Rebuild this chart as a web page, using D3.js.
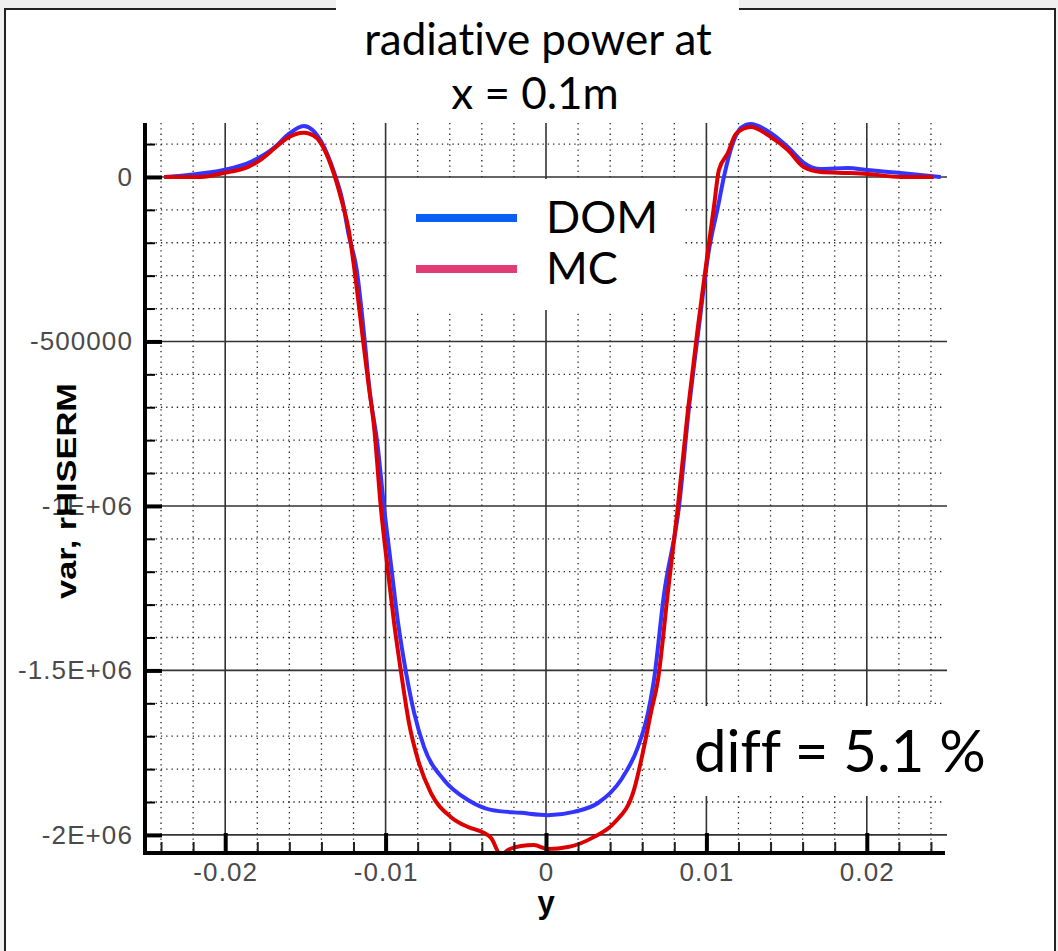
<!DOCTYPE html>
<html>
<head>
<meta charset="utf-8">
<script src="https://d3js.org/d3.v7.min.js"></script>
<style>
  html, body { margin: 0; padding: 0; background: #f0f0f0; }
  svg { display: block; }
  text { font-variant-ligatures: none; }
</style>
</head>
<body>
<svg id="chart" width="1058" height="951"></svg>
<script>
// ---- data ----
const titleLines = ["radiative power at", "x = 0.1m"];
const seriesNames = ["DOM", "MC"];
const xTickValues = [-0.02, -0.01, 0, 0.01, 0.02];
const xTickLabels = ["-0.02", "-0.01", "0", "0.01", "0.02"];
const yTickValues = [0, -500000, -1000000, -1500000, -2000000];
const yTickLabels = ["0", "-500000", "-1E+06", "-1.5E+06", "-2E+06"];
const xLabel = "y";
const yLabel = "var, rHISERM";
const diffText = "diff = 5.1 %";

const domX = [-0.0238, -0.0223, -0.0201, -0.0184, -0.0169, -0.0161, -0.0151, -0.0140, -0.0132, -0.0127, -0.0123, -0.0118, -0.0113, -0.0110, -0.0105, -0.0101, -0.00966, -0.00922, -0.00872, -0.00822, -0.0076, -0.00636, -0.00486, -0.00343, -0.00156, 0.00012, 0.00174, 0.00324, 0.00467, 0.00573, 0.00636, 0.00673, 0.00735, 0.00829, 0.0089, 0.00953, 0.01016, 0.01072, 0.01109, 0.01165, 0.01215, 0.01277, 0.0140, 0.01508, 0.01607, 0.01713, 0.01882, 0.02006, 0.02212, 0.02461];
const domY = [0, 6000, 21000, 46000, 91000, 128000, 155000, 106000, 12000, -70000, -176000, -283000, -499000, -648000, -815000, -1003000, -1180000, -1356000, -1508000, -1629000, -1733000, -1833000, -1894000, -1924000, -1933000, -1940000, -1930000, -1903000, -1833000, -1733000, -1629000, -1529000, -1271000, -1003000, -708000, -456000, -222000, -91000, 0, 103000, 149000, 161000, 134000, 91000, 43000, 24000, 27000, 21000, 12000, 0];

const mcX = [-0.0238, -0.0215, -0.0201, -0.0186, -0.0178, -0.0169, -0.0161, -0.0151, -0.0143, -0.0139, -0.0132, -0.0128, -0.0123, -0.0120, -0.0114, -0.0111, -0.0107, -0.0103, -0.00984, -0.00947, -0.00903, -0.00854, -0.00798, -0.00717, -0.00592, -0.00486, -0.00386, -0.00343, -0.0028, -0.00237, -0.00156, -0.00075, 0.00012, 0.00137, 0.003, 0.00424, 0.00548, 0.00611, 0.00654, 0.00698, 0.0076, 0.00822, 0.00885, 0.00947, 0.0101, 0.01047, 0.01078, 0.01134, 0.01184, 0.01277, 0.0140, 0.01508, 0.01607, 0.01713, 0.01882, 0.02006, 0.02212, 0.02417];
const mcY = [0, 0, 12000, 30000, 52000, 88000, 119000, 134000, 119000, 91000, 6000, -61000, -161000, -261000, -499000, -617000, -769000, -1003000, -1204000, -1356000, -1508000, -1660000, -1772000, -1873000, -1946000, -1976000, -1994000, -2009000, -2061000, -2046000, -2034000, -2031000, -2043000, -2037000, -2006000, -1964000, -1864000, -1733000, -1629000, -1529000, -1262000, -1003000, -708000, -456000, -222000, -91000, 21000, 73000, 131000, 152000, 122000, 82000, 30000, 15000, 12000, 9000, 0, 0];

const curveColors = ["#3434ff", "#dd0000"];
const legendColors = ["#0a5ff5", "#e23c75"];

// ---- drawing ----
const svg = d3.select("#chart");
const W = 1058, H = 951;

// page frame
svg.append("rect").attr("x", 0).attr("y", 0).attr("width", W).attr("height", H).attr("fill", "#f0f0f0");
svg.append("rect").attr("x", 5).attr("y", 9).attr("width", 1050).attr("height", 960)
  .attr("fill", "#ffffff").attr("stroke", "#222").attr("stroke-width", 2);

const x = d3.scaleLinear().domain([-0.025, 0.025]).range([145, 947]);
const y = d3.scaleLinear().domain([-2055000, 164000]).range([853, 123]);

const minorX = d3.range(-24, 25, 2).map(d => d / 1000);
const minorY = d3.range(-20, 2, 1).map(d => d * 100000);
const isMajorX = v => xTickValues.some(t => Math.abs(t - v) < 1e-9);
const isMajorY = v => yTickValues.some(t => Math.abs(t - v) < 1e-3);

const grid = svg.append("g");
// dotted minor grid
grid.selectAll("line.vmin").data(minorX.filter(v => !isMajorX(v))).join("line")
  .attr("x1", d => x(d)).attr("x2", d => x(d)).attr("y1", y.range()[1]).attr("y2", y.range()[0])
  .attr("stroke", "#222").attr("stroke-width", 1.3).attr("stroke-dasharray", "1.3,4");
grid.selectAll("line.hmin").data(minorY.filter(v => !isMajorY(v))).join("line")
  .attr("x1", x.range()[0]).attr("x2", x.range()[1] - 4).attr("y1", d => y(d)).attr("y2", d => y(d))
  .attr("stroke", "#222").attr("stroke-width", 1.3).attr("stroke-dasharray", "1.3,4");
// solid major grid
grid.selectAll("line.vmaj").data(xTickValues).join("line")
  .attr("x1", d => x(d)).attr("x2", d => x(d)).attr("y1", y.range()[1]).attr("y2", y.range()[0])
  .attr("stroke", "#333").attr("stroke-width", 1.6);
grid.selectAll("line.hmaj").data(yTickValues).join("line")
  .attr("x1", x.range()[0]).attr("x2", x.range()[1]).attr("y1", d => y(d)).attr("y2", d => y(d))
  .attr("stroke", "#333").attr("stroke-width", 1.6);

// curves
svg.append("defs").append("clipPath").attr("id", "plotclip")
  .append("rect").attr("x", x.range()[0]).attr("y", 100).attr("width", x.range()[1] - x.range()[0] + 5).attr("height", y.range()[0] - 100);

const line = d3.line().x(d => x(d[0])).y(d => y(d[1])).curve(d3.curveMonotoneX);
const seriesData = [d3.zip(domX, domY), d3.zip(mcX, mcY)];
const curves = svg.append("g").attr("clip-path", "url(#plotclip)");
seriesData.forEach((s, i) => {
  curves.append("path").datum(s).attr("d", line)
    .attr("fill", "none").attr("stroke", curveColors[i]).attr("stroke-width", 4)
    .attr("stroke-linejoin", "round");
});

// axes
const tickFont = "'Liberation Sans', Arial, sans-serif";
const yAxisMajor = d3.axisLeft(y).tickValues(yTickValues)
  .tickFormat((d, i) => yTickLabels[i]).tickSize(-17).tickSizeOuter(0).tickPadding(12);
const gy = svg.append("g").attr("transform", `translate(${x.range()[0]},0)`).call(yAxisMajor);
gy.select(".domain").remove();
gy.selectAll(".tick line").attr("stroke", "#000").attr("stroke-width", 4);
gy.selectAll(".tick text").attr("font-family", tickFont).attr("font-size", 26)
  .attr("letter-spacing", 1.1).attr("fill", "#4a4a4a");
const yAxisMinor = d3.axisLeft(y).tickValues(minorY.filter(v => !isMajorY(v)))
  .tickFormat("").tickSize(-10).tickSizeOuter(0);
const gym = svg.append("g").attr("transform", `translate(${x.range()[0]},0)`).call(yAxisMinor);
gym.select(".domain").remove();
gym.selectAll(".tick line").attr("stroke", "#000").attr("stroke-width", 2);

const xAxisMajor = d3.axisBottom(x).tickValues(xTickValues)
  .tickFormat((d, i) => xTickLabels[i]).tickSize(-20).tickSizeOuter(0).tickPadding(10);
const gx = svg.append("g").attr("transform", `translate(0,${y.range()[0]})`).call(xAxisMajor);
gx.select(".domain").remove();
gx.selectAll(".tick line").attr("stroke", "#000").attr("stroke-width", 4);
gx.selectAll(".tick text").attr("font-family", tickFont).attr("font-size", 26)
  .attr("letter-spacing", 1.1).attr("fill", "#4a4a4a");
const xAxisMinor = d3.axisBottom(x).tickValues(minorX.filter(v => !isMajorX(v)))
  .tickFormat("").tickSize(-11).tickSizeOuter(0);
const gxm = svg.append("g").attr("transform", `translate(0,${y.range()[0]})`).call(xAxisMinor);
gxm.select(".domain").remove();
gxm.selectAll(".tick line").attr("stroke", "#222").attr("stroke-width", 2);

// axis lines
svg.append("line").attr("x1", x.range()[0]).attr("x2", x.range()[0])
  .attr("y1", y.range()[1]).attr("y2", y.range()[0] + 2).attr("stroke", "#000").attr("stroke-width", 4);
svg.append("line").attr("x1", x.range()[0] - 2).attr("x2", x.range()[1] - 2)
  .attr("y1", y.range()[0]).attr("y2", y.range()[0]).attr("stroke", "#000").attr("stroke-width", 4);

// axis titles
svg.append("text").attr("x", x(0)).attr("y", 913).attr("text-anchor", "middle")
  .attr("font-family", tickFont).attr("font-weight", "bold").attr("font-size", 31).attr("fill", "#000")
  .text(xLabel);
svg.append("text").attr("transform", "translate(76,491) rotate(-90)").attr("text-anchor", "middle")
  .attr("font-family", tickFont).attr("font-weight", "bold").attr("font-size", 28).attr("fill", "#000")
  .attr("textLength", 216).attr("lengthAdjust", "spacingAndGlyphs")
  .text(yLabel);

// title box
const titleFont = "Lato, 'Open Sans', sans-serif";
svg.append("rect").attr("x", 336).attr("y", 0).attr("width", 403).attr("height", 118).attr("fill", "#fff");
svg.append("text").attr("x", 538).attr("y", 55).attr("text-anchor", "middle")
  .attr("font-family", titleFont).attr("font-size", 44).attr("fill", "#000").text(titleLines[0]);
svg.append("text").attr("x", 535).attr("y", 109).attr("text-anchor", "middle")
  .attr("font-family", titleFont).attr("font-size", 44).attr("fill", "#000").text(titleLines[1]);

// legend box
svg.append("rect").attr("x", 389).attr("y", 179).attr("width", 294).attr("height", 131).attr("fill", "#fff");
const legendRows = [218, 269];
seriesNames.forEach((n, i) => {
  svg.append("line").attr("x1", 416).attr("x2", 517).attr("y1", legendRows[i]).attr("y2", legendRows[i])
    .attr("stroke", legendColors[i]).attr("stroke-width", 8);
  svg.append("text").attr("x", 546).attr("y", legendRows[i] + 15)
    .attr("font-family", titleFont).attr("font-size", 45).attr("fill", "#000").text(n);
});

// diff box
svg.append("rect").attr("x", 668).attr("y", 706).attr("width", 332).attr("height", 90).attr("fill", "#fff");
svg.append("text").attr("x", 694).attr("y", 772)
  .attr("font-family", titleFont).attr("font-size", 58).attr("fill", "#000").text(diffText);
</script>
</body>
</html>
